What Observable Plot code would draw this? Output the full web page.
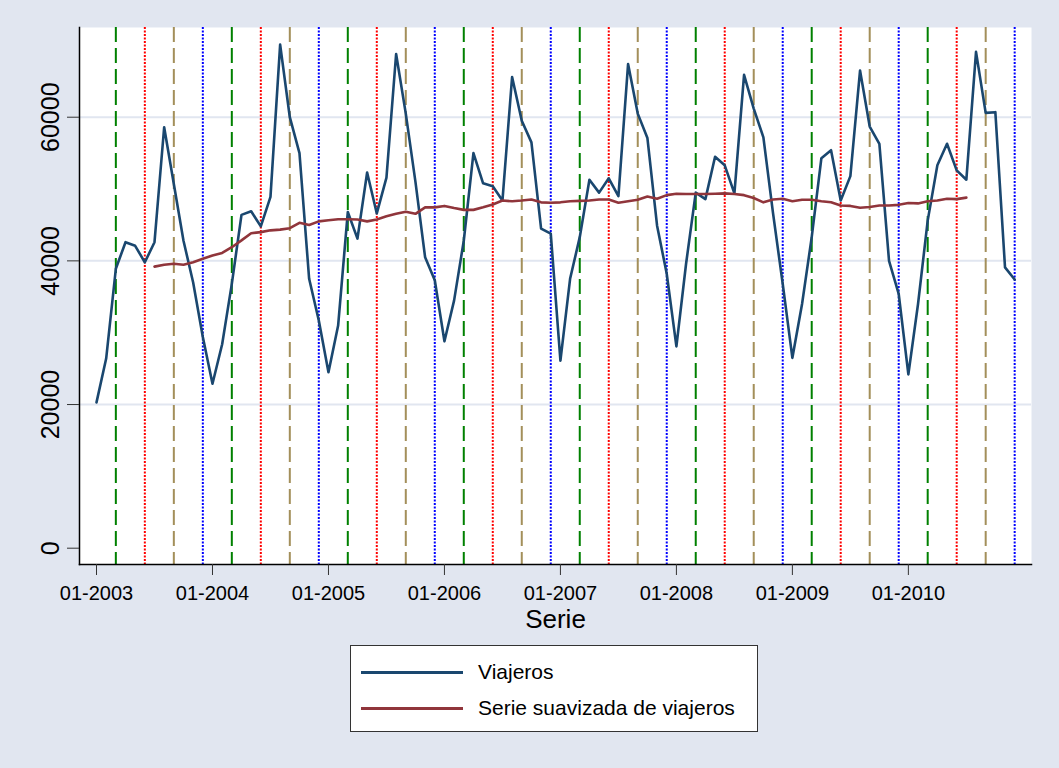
<!DOCTYPE html>
<html>
<head>
<meta charset="utf-8">
<script src="https://cdn.jsdelivr.net/npm/d3@7"></script>
<script src="https://cdn.jsdelivr.net/npm/@observablehq/plot@0.6"></script>
<style>
  html, body { margin: 0; padding: 0; background: #E1E6F0; }
  body { width: 1059px; height: 768px; position: relative; overflow: hidden; font-family: "Liberation Sans", Arial, sans-serif; }
  #chart svg { display: block; }
  #legend { position: absolute; left: 350px; top: 645px; width: 408px; height: 87px; box-sizing: border-box;
            border: 1.5px solid #333; background: #ffffff; }
  .swatch { position: absolute; left: 10px; width: 102px; height: 0; border-top: 3px solid; }
  .lab { position: absolute; left: 127px; font-size: 21px; color: #000; white-space: nowrap; line-height: 24px; }
</style>
</head>
<body>
<div id="chart"></div>
<div id="legend"></div>
<script>
// Tick labels of the monthly x axis (index 0 = 01-2003)
const tickLabels = ["01-2003", "01-2004", "01-2005", "01-2006", "01-2007", "01-2008", "01-2009", "01-2010"];
const tickMonths = [0, 12, 24, 36, 48, 60, 72, 84];

// Viajeros, monthly 01-2003 .. 12-2010
const viajeros = [
  20300, 26400, 38900, 42600, 42100, 39800, 42600, 58600, 50700, 42800, 37000, 29400,
  22900, 28400, 36800, 46400, 46900, 44800, 48900, 70100, 60000, 55000, 37500, 31700,
  24500, 31000, 46800, 43100, 52300, 46600, 51600, 68800, 60500, 51000, 40500, 37300,
  28800, 34500, 42800, 55000, 50800, 50400, 48400, 65600, 59500, 56500, 44500, 43800,
  26100, 37500, 43300, 51300, 49500, 51500, 49000, 67400, 60500, 57100, 44900, 38200,
  28100, 39600, 49500, 48600, 54500, 53300, 49400, 65900, 61200, 57200, 46600, 36800,
  26500, 34000, 43300, 54300, 55400, 48400, 51800, 66500, 58700, 56300, 40000, 35400,
  24200, 34000, 45600, 53300, 56300, 52600, 51300, 69100, 60600, 60700, 39100, 37400
];

// Serie suavizada de viajeros (centred moving average, 07-2003 .. 07-2010)
const suavizada = [
  null, null, null, null, null, null,
  39200, 39450, 39600, 39450, 39800, 40300,
  40750, 41100, 41900, 42850, 43850, 44000, 44250, 44350, 44550, 45300, 45000, 45500,
  45650, 45800, 45800, 45750, 45500, 45750, 46200, 46550, 46850, 46550, 47450, 47450,
  47650, 47350, 47100, 47100, 47450, 47850, 48400, 48300, 48400, 48550, 48150, 48100,
  48150, 48300, 48350, 48400, 48550, 48550, 48100, 48300, 48500, 48950, 48650, 49150,
  49350, 49300, 49300, 49300, 49350, 49400, 49300, 49150, 48750, 48150, 48550, 48650,
  48300, 48500, 48500, 48300, 48150, 47700, 47650, 47400, 47500, 47700, 47700, 47800,
  48050, 48000, 48300, 48400, 48650, 48600, 48800,
  null, null, null, null, null
];

// Reference lines (month index): March, June, September, December
const marzo = [2, 14, 26, 38, 50, 62, 74, 86];
const junio = [5, 17, 29, 41, 53, 65, 77, 89];
const septiembre = [8, 20, 32, 44, 56, 68, 80, 92];
const diciembre = [11, 23, 35, 47, 59, 71, 83, 95];

const yTicks = [0, 20000, 40000, 60000];
const seriesNames = ["Viajeros", "Serie suavizada de viajeros"];
const seriesColors = ["#1A476F", "#90353B"];

const rowsV = viajeros.map((v, i) => ({t: i, v}));
const rowsS = suavizada.map((v, i) => ({t: i, v})).filter(d => d.v != null);

const xDomain = [-1.76, 96.74];
const yDomain = [-2269, 72488];

const chart = Plot.plot({
  width: 1059,
  height: 640,
  marginLeft: 79,
  marginRight: 28,
  marginTop: 27,
  marginBottom: 76,
  style: {background: "transparent", fontFamily: "'Liberation Sans', Arial, sans-serif", color: "#000"},
  x: {domain: xDomain},
  y: {domain: yDomain},
  marks: [
    Plot.frame({fill: "#ffffff", stroke: null}),
    Plot.gridY(yTicks.filter(d => d > 0), {stroke: "#E1E6F0", strokeOpacity: 1, strokeWidth: 2}),
    Plot.ruleX(marzo, {stroke: "#008000", strokeWidth: 2, strokeDasharray: "15,6"}),
    Plot.ruleX(junio, {stroke: "#FF0000", strokeWidth: 2, strokeDasharray: "2,1.5"}),
    Plot.ruleX(septiembre, {stroke: "#A38F5A", strokeWidth: 2, strokeDasharray: "15,6"}),
    Plot.ruleX(diciembre, {stroke: "#0000FF", strokeWidth: 2, strokeDasharray: "2,1.5"}),
    Plot.line(rowsV, {x: "t", y: "v", stroke: seriesColors[0], strokeWidth: 2.6}),
    Plot.line(rowsS, {x: "t", y: "v", stroke: seriesColors[1], strokeWidth: 2.6}),
    Plot.frame({anchor: "left", stroke: "#000", strokeWidth: 1.5}),
    Plot.frame({anchor: "bottom", stroke: "#000", strokeWidth: 1.5}),
    Plot.axisX({ticks: tickMonths, tickFormat: d => tickLabels[tickMonths.indexOf(d)], tickSize: 11, tickPadding: 10,
                fontSize: 20, label: null, stroke: "#333"}),
    Plot.axisY({ticks: yTicks, tickFormat: d => String(d), tickSize: 12, tickPadding: 9, tickRotate: -90,
                fontSize: 25, label: null, stroke: "#333"}),
    Plot.text(["Serie"], {frameAnchor: "bottom", dy: 63, fontSize: 26, fill: "#000"})
  ]
});
document.getElementById("chart").appendChild(chart);

// Legend
const legend = document.getElementById("legend");
const rowTops = [27, 63];
seriesNames.forEach((name, i) => {
  const sw = document.createElement("div");
  sw.className = "swatch";
  sw.style.top = (rowTops[i] - 2.5) + "px";
  sw.style.borderTopColor = seriesColors[i];
  legend.appendChild(sw);
  const lab = document.createElement("div");
  lab.className = "lab";
  lab.style.top = (rowTops[i] - 13) + "px";
  lab.textContent = name;
  legend.appendChild(lab);
});
</script>
</body>
</html>
